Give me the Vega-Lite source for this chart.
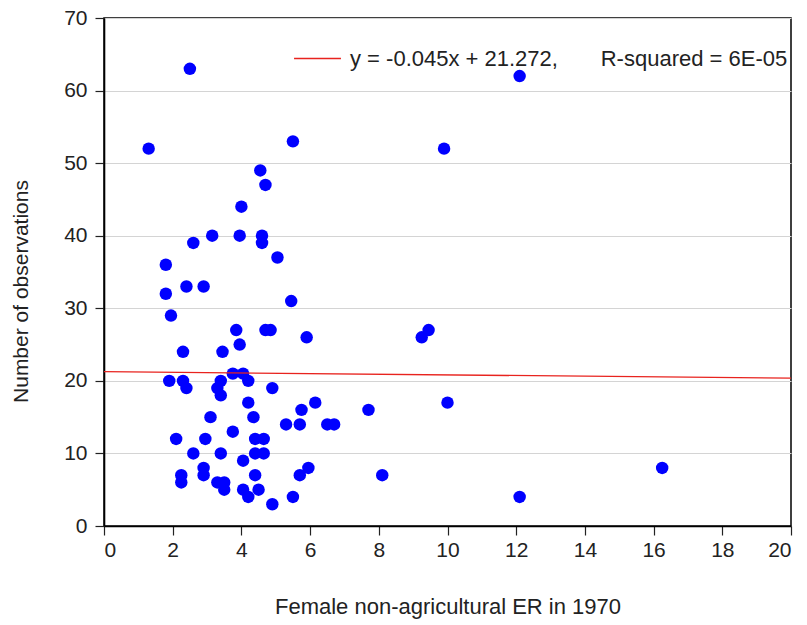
{
  "$schema": "https://vega.github.io/schema/vega-lite/v6.json",
  "autosize": "none",
  "width": 687,
  "height": 508,
  "padding": {"left": 104, "top": 18, "right": 16, "bottom": 99},
  "background": "white",
  "config": {
    "font": "Liberation Sans",
    "view": {"stroke": "black", "strokeWidth": 1.5},
    "axis": {
      "labelFont": "Liberation Sans",
      "titleFont": "Liberation Sans",
      "labelFontSize": 21,
      "titleFontSize": 21,
      "titleFontWeight": "normal",
      "labelColor": "#222",
      "titleColor": "#222",
      "domainColor": "black",
      "domainWidth": 1.6,
      "tickColor": "#222",
      "tickWidth": 1.2,
      "tickSize": 9
    }
  },
  "datasets": {
    "pts": [
      {"x": 2.5, "y": 63}, {"x": 1.3, "y": 52}, {"x": 5.5, "y": 53}, {"x": 9.9, "y": 52},
      {"x": 12.1, "y": 62}, {"x": 4.55, "y": 49}, {"x": 4.7, "y": 47}, {"x": 4.0, "y": 44},
      {"x": 2.6, "y": 39}, {"x": 3.15, "y": 40}, {"x": 3.95, "y": 40}, {"x": 4.6, "y": 40},
      {"x": 4.6, "y": 39}, {"x": 5.05, "y": 37}, {"x": 1.8, "y": 36}, {"x": 2.4, "y": 33},
      {"x": 2.9, "y": 33}, {"x": 1.8, "y": 32}, {"x": 5.45, "y": 31}, {"x": 1.95, "y": 29},
      {"x": 3.85, "y": 27}, {"x": 4.7, "y": 27}, {"x": 4.85, "y": 27}, {"x": 5.9, "y": 26},
      {"x": 9.25, "y": 26}, {"x": 9.45, "y": 27}, {"x": 3.95, "y": 25}, {"x": 2.3, "y": 24},
      {"x": 3.45, "y": 24}, {"x": 3.75, "y": 21}, {"x": 4.05, "y": 21}, {"x": 1.9, "y": 20},
      {"x": 2.3, "y": 20}, {"x": 2.4, "y": 19}, {"x": 3.4, "y": 20}, {"x": 3.3, "y": 19},
      {"x": 3.4, "y": 18}, {"x": 4.2, "y": 20}, {"x": 4.9, "y": 19}, {"x": 4.2, "y": 17},
      {"x": 6.15, "y": 17}, {"x": 10.0, "y": 17}, {"x": 5.75, "y": 16}, {"x": 7.7, "y": 16},
      {"x": 3.1, "y": 15}, {"x": 4.35, "y": 15}, {"x": 5.3, "y": 14}, {"x": 5.7, "y": 14},
      {"x": 6.5, "y": 14}, {"x": 6.7, "y": 14}, {"x": 3.75, "y": 13}, {"x": 2.1, "y": 12},
      {"x": 2.95, "y": 12}, {"x": 4.4, "y": 12}, {"x": 4.65, "y": 12}, {"x": 2.6, "y": 10},
      {"x": 3.4, "y": 10}, {"x": 4.4, "y": 10}, {"x": 4.65, "y": 10}, {"x": 4.05, "y": 9},
      {"x": 2.9, "y": 8}, {"x": 2.9, "y": 7}, {"x": 5.95, "y": 8}, {"x": 5.7, "y": 7},
      {"x": 8.1, "y": 7}, {"x": 2.25, "y": 7}, {"x": 2.25, "y": 6}, {"x": 4.4, "y": 7},
      {"x": 3.3, "y": 6}, {"x": 3.5, "y": 6}, {"x": 3.5, "y": 5}, {"x": 4.05, "y": 5},
      {"x": 4.2, "y": 4}, {"x": 4.5, "y": 5}, {"x": 5.5, "y": 4}, {"x": 4.9, "y": 3},
      {"x": 16.25, "y": 8}, {"x": 12.1, "y": 4}
    ],
    "fit": [
      {"x": 0, "y": 21.272, "series": "y = -0.045x + 21.272,\u00a0\u00a0\u00a0\u00a0\u00a0\u00a0\u00a0R-squared = 6E-05"},
      {"x": 20, "y": 20.372, "series": "y = -0.045x + 21.272,\u00a0\u00a0\u00a0\u00a0\u00a0\u00a0\u00a0R-squared = 6E-05"}
    ]
  },
  "layer": [
    {
      "data": {"name": "pts"},
      "mark": {"type": "point", "filled": true, "shape": "circle", "size": 155, "color": "#0000ff", "opacity": 1},
      "encoding": {
        "x": {"field": "x", "type": "quantitative",
              "scale": {"domain": [0, 20], "nice": false, "zero": true},
              "axis": {"values": [0,2,4,6,8,10,12,14,16,18,20], "grid": false, "title": "Female non-agricultural ER in 1970", "titleFontSize": 22, "titlePadding": 36, "labelPadding": 4}},
        "y": {"field": "y", "type": "quantitative",
              "scale": {"domain": [0, 70], "nice": false},
              "axis": {"values": [0,10,20,30,40,50,60,70], "grid": true, "gridColor": "#d4d4d4", "gridWidth": 1.2, "title": "Number of observations", "titlePadding": 32, "titleY": 273, "labelPadding": 8}}
      }
    },
    {
      "data": {"name": "fit"},
      "mark": {"type": "line", "strokeWidth": 1.3},
      "encoding": {
        "x": {"field": "x", "type": "quantitative"},
        "y": {"field": "y", "type": "quantitative"},
        "color": {"field": "series", "type": "nominal",
                  "scale": {"range": ["#e8231e"]},
                  "legend": {"title": null, "orient": "none", "legendX": 189, "legendY": 16, "padding": 0, "symbolType": "stroke", "symbolSize": 2200, "symbolStrokeWidth": 1.3, "labelOffset": 8, "labelFontSize": 22, "labelFont": "Liberation Sans", "labelColor": "#222", "labelLimit": 700}}
      }
    }
  ]
}
